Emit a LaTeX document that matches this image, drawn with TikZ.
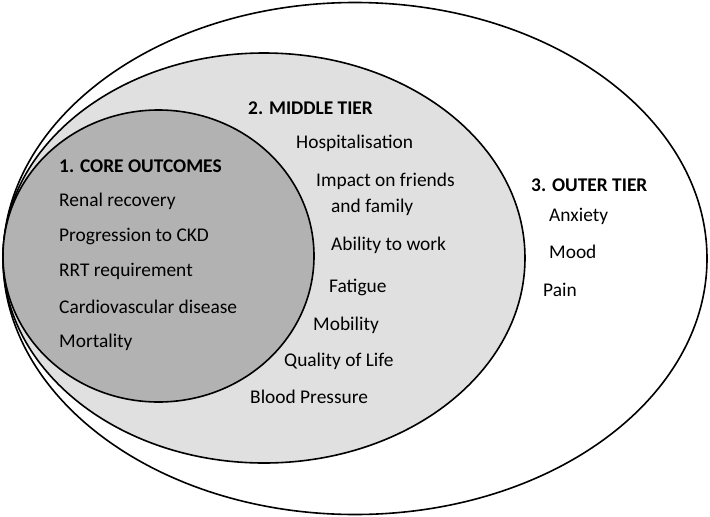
\documentclass[tikz,border=0pt]{standalone}
\usepackage{fontspec}
\setmainfont{Carlito}
\begin{document}
\begin{tikzpicture}[x=1pt,y=-1pt,
  ring/.style={draw=black,line width=1.6pt},
  lbl/.style={anchor=west,inner sep=0pt,font=\fontsize{19.4}{23}\selectfont},
  head/.style={lbl,font=\fontsize{19.4}{23}\selectfont\bfseries}]
\useasboundingbox (0,0) rectangle (710,517);
\draw[ring,fill=white] (355,258.5) ellipse [x radius=352, y radius=256];
\draw[ring,fill=black!12] (264,258) ellipse [x radius=261, y radius=205];
\draw[ring,fill=black!30] (158.5,256) ellipse [x radius=155.5, y radius=146];
\node[head] (core) at (59,166) {1. CORE OUTCOMES};
\node[lbl] (c1) at (59,201) {Renal recovery};
\node[lbl] (c2) at (59,236) {Progression to CKD};
\node[lbl] (c3) at (59,271) {RRT requirement};
\node[lbl] (c4) at (59,307) {Cardiovascular disease};
\node[lbl] (c5) at (59,342) {Mortality};
\node[head] (mid) at (248,108) {2. MIDDLE TIER};
\node[lbl] (m1) at (296,143) {Hospitalisation};
\node[lbl] (m2a) at (316,181) {Impact on friends};
\node[lbl] (m2b) at (331,207) {and family};
\node[lbl] (m3) at (331,245) {Ability to work};
\node[lbl] (m4) at (329,287) {Fatigue};
\node[lbl] (m5) at (313,325) {Mobility};
\node[lbl] (m6) at (284,361) {Quality of Life};
\node[lbl] (m7) at (250,397) {Blood Pressure};
\node[head] (out) at (531,185) {3. OUTER TIER};
\node[lbl] (o1) at (549,216) {Anxiety};
\node[lbl] (o2) at (549,252) {Mood};
\node[lbl] (o3) at (543,290) {Pain};
\end{tikzpicture}
\end{document}
